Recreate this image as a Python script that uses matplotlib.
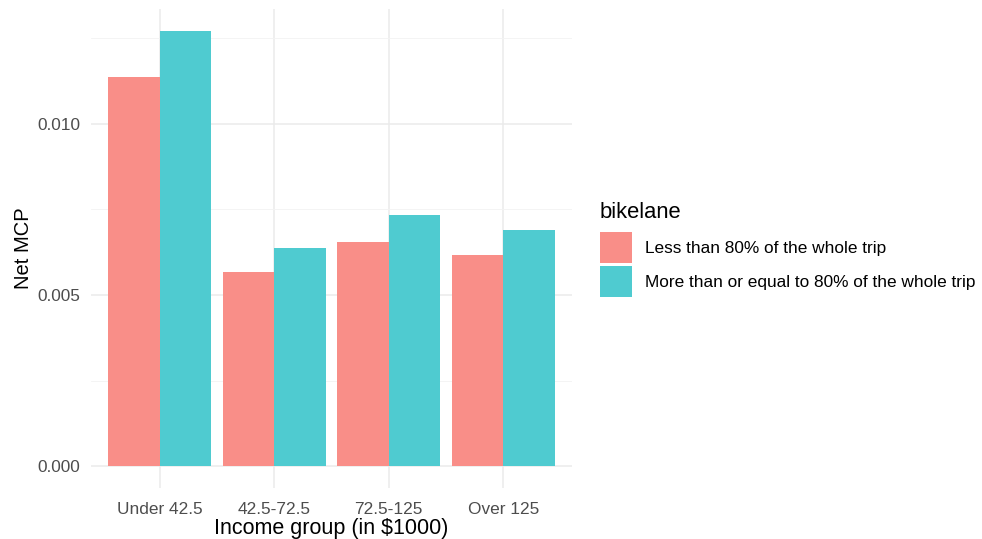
import matplotlib
matplotlib.use("Agg")
import matplotlib.pyplot as plt
import numpy as np
from matplotlib.patches import Patch

plt.rcParams['font.family'] = ['Liberation Sans', 'DejaVu Sans']

categories = ["Under 42.5", "42.5-72.5", "72.5-125", "Over 125"]
series_names = ["Less than 80% of the whole trip",
                "More than or equal to 80% of the whole trip"]
less_80 = [0.01137, 0.00567, 0.00655, 0.00617]
more_80 = [0.01272, 0.00637, 0.00734, 0.00690]
yticks = [0.000, 0.005, 0.010]
ytick_labels = ["0.000", "0.005", "0.010"]

colors = ["#F98E88", "#4FCBD0"]

W, H = 982, 539
fig = plt.figure(figsize=(W / 100, H / 100), dpi=100)
L, R, T, B = 91, 572, 9, 488
ax = fig.add_axes([L / W, 1 - B / H, (R - L) / W, (B - T) / H])

x = np.arange(len(categories))
bw = 0.45
ax.bar(x - bw / 2, less_80, width=bw, color=colors[0], zorder=3, linewidth=0)
ax.bar(x + bw / 2, more_80, width=bw, color=colors[1], zorder=3, linewidth=0)

ymax = max(max(less_80), max(more_80))
pad = ymax * 0.05
ax.set_ylim(-pad, ymax + pad)
ax.set_xlim(-0.6, len(categories) - 1 + 0.6)

ax.set_yticks(yticks)
ax.set_yticklabels(ytick_labels)
ax.set_yticks([0.0025, 0.0075, 0.0125], minor=True)
ax.set_xticks(x)
ax.set_xticklabels(categories)

ax.grid(True, which='major', color='#EBEBEB', linewidth=1.1, zorder=0)
ax.grid(True, which='minor', axis='y', color='#F3F3F3', linewidth=0.6, zorder=0)
for s in ax.spines.values():
    s.set_visible(False)
ax.tick_params(axis='both', which='both', length=0, labelsize=12.4, labelcolor='#4D4D4D')
ax.tick_params(axis='y', pad=8)
ax.tick_params(axis='x', pad=10)

ax.set_xlabel("Income group (in $1000)", fontsize=15.5, color='black', labelpad=0.5)
ax.set_ylabel("Net MCP", fontsize=14.5, color='black', labelpad=3)

fs = 12.4
fpx = fs * 100 / 72
hh = (31 / fpx - 0.245) / 0.65
handles = [Patch(facecolor=c, edgecolor='none') for c in colors]
leg = fig.legend(handles, series_names, title="bikelane", loc='upper left',
                 bbox_to_anchor=(600 / W, 1 - 202 / H), frameon=False,
                 fontsize=fs, title_fontsize=15.8,
                 handlelength=32 / fpx, handleheight=hh,
                 labelspacing=3 / fpx, handletextpad=13 / fpx, borderaxespad=0,
                 borderpad=0)
leg._legend_box.align = "left"
leg._legend_box.sep = 3 / fpx * fs + 4.3

fig.savefig("out.png", dpi=100)
